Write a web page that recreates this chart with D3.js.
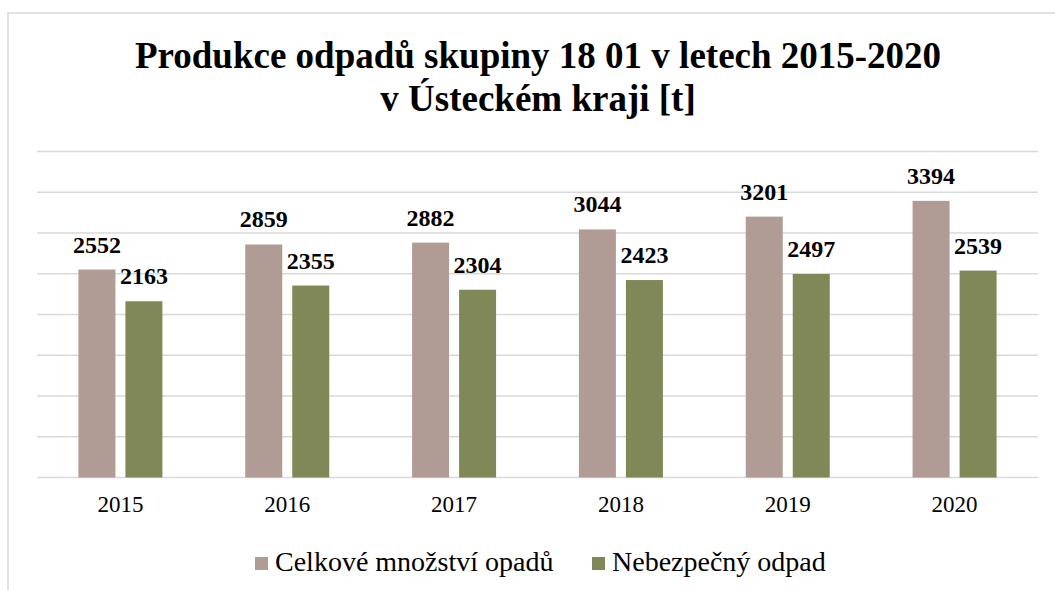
<!DOCTYPE html>
<html>
<head>
<meta charset="utf-8">
<script src="https://cdn.jsdelivr.net/npm/d3@7"></script>
<style>
  body { margin: 0; background: #fff; }
  svg { display: block; }
</style>
</head>
<body>
<script>
const years = ['2015', '2016', '2017', '2018', '2019', '2020'];
const series = ['Celkové množství opadů', 'Nebezpečný odpad'];
const celkem = [2552, 2859, 2882, 3044, 3201, 3394];
const nebezpecny = [2163, 2355, 2304, 2423, 2497, 2539];
const yTicks = [0, 500, 1000, 1500, 2000, 2500, 3000, 3500, 4000];
const colors = ['#b09c94', '#808858'];

const width = 1055;
const height = 590;

const data = years.map((y, i) => ({ year: y, values: [celkem[i], nebezpecny[i]] }));

const svg = d3.select('body')
              .append('svg')
              .attr('width', width)
              .attr('height', height);

svg.append('rect')
   .attr('x', 8)
   .attr('y', 13)
   .attr('width', width)
   .attr('height', height)
   .attr('fill', '#fff')
   .attr('stroke', '#d9d9d9')
   .attr('stroke-width', 1.5);

// title
const title = svg.append('text')
   .attr('x', 538)
   .attr('text-anchor', 'middle')
   .style('font-family', '"Liberation Serif", "Times New Roman", serif')
   .style('font-weight', 'bold')
   .style('font-size', '37px');
title.append('tspan').attr('x', 538).attr('y', 68).text('Produkce odpadů skupiny 18 01 v letech 2015-2020');
title.append('tspan').attr('x', 538).attr('y', 111).text('v Ústeckém kraji [t]');

let x0 = d3.scaleBand()
           .domain(years)
           .range([37, 1038]);

const groupW = 84;
let x1 = d3.scaleBand()
           .domain(series)
           .range([(x0.bandwidth() - groupW) / 2, (x0.bandwidth() + groupW) / 2])
           .paddingInner(0.213);

let yScale = d3.scaleLinear()
               .domain([0, 4000])
               .range([477.5, 151.5]);

// gridlines
svg.append('g')
   .selectAll('line')
   .data(yTicks)
   .enter()
   .append('line')
   .attr('x1', 37)
   .attr('x2', 1038)
   .attr('y1', d => yScale(d))
   .attr('y2', d => yScale(d))
   .attr('stroke', '#d9d9d9')
   .attr('stroke-width', 1.5);

// x axis labels
let xAxis = d3.axisBottom(x0).tickSize(0).tickPadding(0);
const gx = svg.append('g')
   .attr('transform', 'translate(0, 496)')
   .call(xAxis);
gx.select('.domain').remove();
gx.selectAll('text')
  .attr('dy', '0.71em')
  .attr('fill', '#000')
  .style('font-family', '"Liberation Serif", "Times New Roman", serif')
  .style('font-size', '23px');

// bars
const groups = svg.selectAll('.grp')
   .data(data)
   .enter()
   .append('g')
   .attr('class', 'grp')
   .attr('transform', d => `translate(${x0(d.year)}, 0)`);

groups.selectAll('rect')
   .data(d => d.values.map((v, j) => ({ s: series[j], v: v, c: colors[j] })))
   .enter()
   .append('rect')
   .attr('x', d => x1(d.s))
   .attr('width', x1.bandwidth())
   .attr('y', d => yScale(d.v))
   .attr('height', d => yScale(0) - yScale(d.v))
   .attr('fill', d => d.c);

groups.selectAll('.lbl')
   .data(d => d.values.map((v, j) => ({ s: series[j], v: v })))
   .enter()
   .append('text')
   .attr('class', 'lbl')
   .attr('x', d => x1(d.s) + x1.bandwidth() / 2)
   .attr('y', d => yScale(d.v) - 17)
   .attr('text-anchor', 'middle')
   .style('font-family', '"Liberation Serif", "Times New Roman", serif')
   .style('font-weight', 'bold')
   .style('font-size', '24px')
   .text(d => d.v);

// legend
const legendX = [255, 592];
const legend = svg.selectAll('.leg')
   .data(series)
   .enter()
   .append('g')
   .attr('class', 'leg')
   .attr('transform', (d, i) => `translate(${legendX[i]}, 557)`);

legend.append('rect')
   .attr('width', 13)
   .attr('height', 13)
   .attr('fill', (d, i) => colors[i]);

legend.append('text')
   .attr('x', 20)
   .attr('y', 14)
   .style('font-family', '"Liberation Serif", "Times New Roman", serif')
   .style('font-size', '28px')
   .text(d => d);
</script>
</body>
</html>
